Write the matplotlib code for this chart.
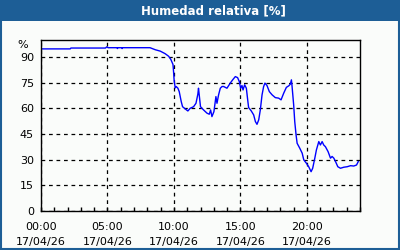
import numpy as np
import matplotlib.pyplot as plt
from matplotlib.patches import Rectangle


# Relative humidity readings (hour of day, %)
hours = [0, 2.2, 2.25, 4.85, 4.95, 5.05, 5.7, 5.75, 5.8, 6.05, 6.1, 6.15,
         8.2, 8.6, 8.97, 9.34, 9.6, 9.77, 9.93, 9.97, 10.02, 10.1, 10.17,
         10.3, 10.4, 10.55, 10.65, 10.85, 11.05, 11.23, 11.48, 11.66, 11.8,
         11.85, 11.93, 12.0, 12.23, 12.49, 12.66, 12.76, 12.86, 13.01, 13.16,
         13.24, 13.36, 13.49, 13.62, 13.74, 13.99, 14.24, 14.42, 14.62, 14.79,
         14.92, 15.02, 15.12, 15.2, 15.32, 15.45, 15.55, 15.62, 15.82, 16.0,
         16.13, 16.25, 16.38, 16.5, 16.63, 16.75, 16.85, 17.0, 17.18, 17.39,
         17.63, 17.88, 18.06, 18.26, 18.46, 18.64, 18.76, 18.84, 18.89, 19.01,
         19.09, 19.19, 19.27, 19.47, 19.65, 19.77, 19.97, 20.14, 20.32, 20.44,
         20.6, 20.72, 20.9, 21.02, 21.15, 21.27, 21.4, 21.6, 21.78, 21.9,
         22.03, 22.16, 22.33, 22.53, 22.78, 23.04, 23.29, 23.53, 23.74, 23.87]
humidity = [94.8, 94.8, 95.3, 95.3, 96.0, 95.5, 95.5, 95.0, 95.5, 95.5, 95.0, 95.5,
            95.5, 94.3, 93.5, 92.0, 90.5, 88.6, 85.7, 81.8, 76.0, 72.0, 72.8,
            71.8, 69.8, 64.0, 61.0, 59.7, 58.5, 60.1, 61.0, 63.0, 68.3,
            71.8, 66.0, 61.0, 59.1, 57.2, 56.6, 59.1, 55.2, 58.1, 66.9,
            63.0, 67.9, 71.8, 72.8, 72.8, 71.8, 74.8, 76.7, 78.6, 78.0,
            75.7, 71.8, 73.4, 70.8, 73.8, 71.8, 65.0, 60.5, 58.5, 56.2,
            52.3, 50.7, 53.3, 59.1, 67.9, 72.8, 74.8, 73.4, 69.8, 67.9,
            66.3, 66.0, 65.0, 68.9, 72.3, 73.2, 74.2, 76.7, 72.8, 62.0,
            52.3, 44.5, 39.6, 36.7, 33.8, 29.9, 27.9, 25.9, 23.0, 25.0,
            30.9, 35.7, 40.6, 38.6, 40.6, 38.6, 37.6, 34.7, 30.9, 31.9,
            30.9, 28.9, 25.9, 25.0, 25.6, 25.9, 26.5, 26.3, 26.9, 28.9]

x_ticks = [0, 5, 10, 15, 20]
x_labels = ['00:00\n17/04/26', '05:00\n17/04/26', '10:00\n17/04/26',
            '15:00\n17/04/26', '20:00\n17/04/26']
y_ticks = [0, 15, 30, 45, 60, 75, 90]

bar_blue = '#1d5e96'
bg = '#fafcfa'

fig = plt.figure(figsize=(4, 2.5), dpi=100, facecolor=bg)
ax = fig.add_axes([41 / 400, 39 / 250, 319 / 400, 171 / 250])
ax.set_facecolor(bg)

ax.plot(hours, humidity, color='#0000ff', lw=1.0)

ax.set_xlim(0, 24)
ax.set_ylim(0, 100)
ax.set_xticks(x_ticks)
ax.set_xticklabels(x_labels, fontsize=8, linespacing=1.55)
ax.set_xticks(np.arange(0, 25, 1), minor=True)
ax.set_yticks(y_ticks)
ax.tick_params(axis='x', which='both', direction='in', length=3, width=1,
               pad=8, colors='black')
ax.tick_params(axis='y', length=0, pad=5, labelsize=8)
ax.grid(True, which='major', color='black', linestyle=(0, (3, 3)), lw=0.9)
for s in ax.spines.values():
    s.set_linewidth(1)
ax.text(-0.04, 97, '%', transform=ax.get_yaxis_transform(), ha='right',
        va='center', fontsize=8)

# Title bar and frame
fig.patches.append(Rectangle((0, 229 / 250), 1, 21 / 250, transform=fig.transFigure,
                             facecolor=bar_blue, edgecolor='none', zorder=0))
fig.patches.append(Rectangle((0.002, 0.004), 0.996, 0.992, transform=fig.transFigure,
                             facecolor='none', edgecolor=bar_blue, lw=1.5, zorder=5))
fig.text(213 / 400, 239.5 / 250, 'Humedad relativa [%]', color='white',
         fontsize=8.5, fontweight='bold', ha='center', va='center')

fig.savefig('out.png', dpi=100, facecolor=bg)
